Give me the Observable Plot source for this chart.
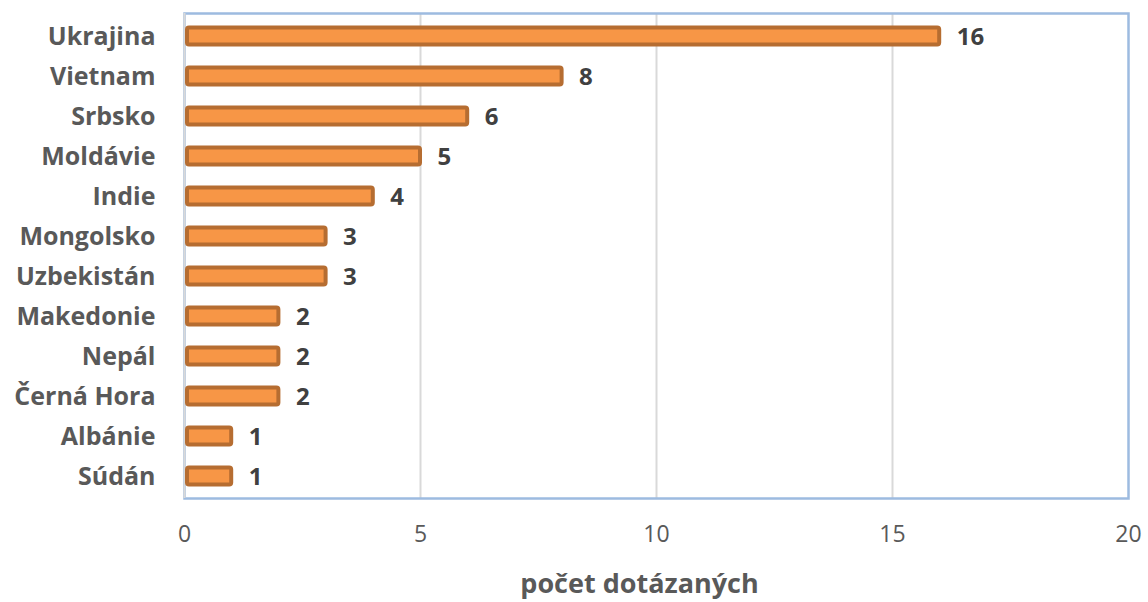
<!DOCTYPE html>
<html>
<head>
<meta charset="utf-8">
<script src="https://cdn.jsdelivr.net/npm/d3@7"></script>
<script src="https://cdn.jsdelivr.net/npm/@observablehq/plot@0.6"></script>
<style>
  html, body { margin: 0; padding: 0; background: #fff; }
  #chart svg { display: block; overflow: visible; }
</style>
</head>
<body>
<div id="chart"></div>
<script>
// Respondents by country of origin
const countries = ["Ukrajina", "Vietnam", "Srbsko", "Moldávie", "Indie", "Mongolsko",
  "Uzbekistán", "Makedonie", "Nepál", "Černá Hora", "Albánie", "Súdán"];
const counts = [16, 8, 6, 5, 4, 3, 3, 2, 2, 2, 1, 1];
const xTicks = [0, 5, 10, 15, 20];
const gridValues = [5, 10, 15];
const axisTitle = "počet dotázaných";

const rows = countries.map((country, i) => ({country, count: counts[i]}));

const chart = Plot.plot({
  width: 1148,
  height: 602,
  marginLeft: 184,
  marginRight: 20,
  marginTop: 13,
  marginBottom: 104,
  style: {fontFamily: "'Open Sans', sans-serif", background: "#fff"},
  x: {domain: [0, 20], ticks: xTicks, axis: null},
  y: {domain: countries, paddingInner: 0.5, paddingOuter: 0.25, axis: null},
  marks: [
    Plot.ruleX(gridValues, {stroke: "#d9d9d9", strokeWidth: 2}),
    Plot.frame({stroke: "#9dbbe0", strokeWidth: 2.5}),
    Plot.ruleX([0], {stroke: "#d9d9d9", strokeWidth: 2}),
    Plot.axisX({
      ticks: xTicks, tickSize: 0, tickPadding: 27, label: null,
      fontSize: 23, fill: "#595959", anchor: "bottom"
    }),
    Plot.axisY({
      tickSize: 0, tickPadding: 29, label: null, fontSize: 25,
      fontWeight: "bold", fill: "#595959", anchor: "left"
    }),
    Plot.barX(rows, {
      x1: 0, x2: "count", y: "country",
      fill: "#f79646", stroke: "#b66d31", strokeWidth: 4,
      insetTop: 1.5, insetBottom: 1.5, insetLeft: 3, rx: 2
    }),
    Plot.text(rows, {
      x: "count", y: "country", text: d => String(d.count),
      textAnchor: "start", dx: 17, dy: 1, fontSize: 24, fontWeight: "bold", fill: "#404040"
    }),
    Plot.text([axisTitle], {
      frameAnchor: "bottom", dy: 94, dx: -17, text: d => d,
      fontSize: 27, fontWeight: "bold", fill: "#595959"
    })
  ]
});

document.getElementById("chart").appendChild(chart);
</script>
</body>
</html>
